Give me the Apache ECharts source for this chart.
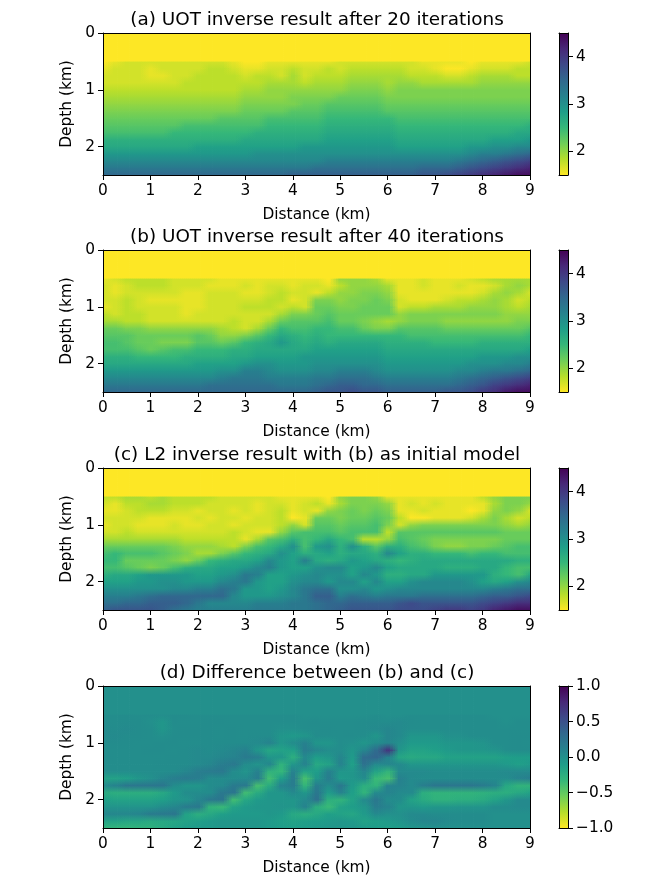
<!DOCTYPE html>
<html>
<head>
<meta charset="utf-8">
<script src="https://cdn.jsdelivr.net/npm/echarts@6/dist/echarts.min.js"></script>
<style>
html, body { margin: 0; padding: 0; background: #fff; }
#chart { width: 664px; height: 886px; }
</style>
</head>
<body>
<div id="chart"></div>
<script>
var titles = [
    '(a) UOT inverse result after 20 iterations',
    '(b) UOT inverse result after 40 iterations',
    '(c) L2 inverse result with (b) as initial model',
    '(d) Difference between (b) and (c)'
];
var distances = [0,0.25,0.5,0.75,1,1.25,1.5,1.75,2,2.25,2.5,2.75,3,3.25,3.5,3.75,4,4.25,4.5,4.75,5,5.25,5.5,5.75,6,6.25,6.5,6.75,7,7.25,7.5,7.75,8,8.25,8.5,8.75,9];
var depths = [0.5,0.625,0.75,0.875,1,1.125,1.25,1.375,1.5,1.625,1.75,1.875,2,2.125,2.25,2.375,2.5];
var xTicks = [0,1,2,3,4,5,6,7,8,9];
var yTicks = [0,1,2];
var velocityTicks = [2,3,4];
var diffTicks = [-1,-0.5,0,0.5,1];
var viridis = ['#440154','#482878','#3e4989','#31688e','#26828e','#1f9e89','#35b779','#6ece58','#b5de2b','#fde725'];
var waterVelocity = 15;
var waterDiff = 0;

// velocity * 10, one row per depth
var modelA = [
[15,16,17,17,17,17,17,17,17,17,17,16,15,15,16,16,16,16,16,16,17,17,17,17,17,17,17,16,16,16,16,15,16,16,16,16,17],
[16,17,17,17,16,17,17,17,17,18,18,17,16,16,17,17,18,17,17,18,17,18,18,18,18,18,17,17,16,15,15,16,17,17,17,18,18],
[17,17,17,17,16,16,17,17,18,18,18,18,17,18,18,17,19,17,18,18,18,19,19,19,19,19,18,18,18,17,17,18,19,19,19,18,18],
[17,17,17,17,17,17,17,18,18,18,18,18,18,18,19,19,19,18,19,19,19,20,20,20,19,20,20,19,19,19,19,19,20,20,20,20,20],
[18,18,18,18,18,18,18,18,18,18,18,18,19,19,20,20,20,20,20,20,20,21,21,21,20,21,21,21,21,21,21,21,21,21,21,21,21],
[19,19,19,19,19,19,19,19,19,19,19,19,20,20,20,20,21,21,21,21,22,22,22,22,21,21,21,21,21,21,21,21,21,21,21,21,21],
[20,20,20,20,20,20,20,20,20,20,20,20,21,21,21,21,21,22,22,23,23,23,23,23,22,22,22,22,22,22,22,22,22,22,22,22,22],
[21,21,21,21,21,21,21,21,21,21,21,21,22,22,22,22,23,23,23,24,24,24,24,24,23,23,23,23,23,23,23,23,23,23,23,23,23],
[22,22,22,22,22,22,22,22,22,22,23,23,23,23,24,24,24,24,24,25,25,25,25,25,25,24,24,24,24,24,24,24,24,24,24,24,24],
[23,23,23,23,23,23,23,24,24,24,24,24,24,24,25,25,25,25,25,26,26,26,26,26,26,25,25,25,25,25,25,25,25,25,25,25,26],
[24,24,24,24,24,24,25,25,25,25,25,25,25,26,26,26,26,26,26,27,27,27,27,27,27,26,26,26,26,26,26,26,26,26,26,27,27],
[26,26,26,26,26,26,26,26,26,26,26,26,27,27,27,27,27,27,27,28,28,28,28,28,28,27,27,27,27,27,27,27,27,28,28,28,29],
[27,27,27,27,27,27,27,27,28,28,28,28,28,28,28,28,28,29,29,29,29,29,29,29,29,28,28,28,28,28,28,29,29,30,30,31,31],
[29,29,29,29,29,29,29,29,29,29,29,29,29,30,30,30,30,30,30,30,30,30,30,30,30,30,30,30,30,30,30,31,32,32,33,34,35],
[31,31,31,31,31,31,31,31,31,31,31,31,31,31,31,31,31,31,31,32,32,32,32,32,32,32,32,32,32,32,33,34,35,36,37,38,39],
[33,33,33,33,33,33,33,33,33,33,33,33,33,33,33,33,33,33,34,34,34,34,34,34,34,34,34,35,35,35,36,37,38,39,40,41,42],
[35,35,35,35,35,35,35,35,35,35,35,35,35,35,35,35,36,36,36,36,36,36,36,36,36,36,36,37,37,38,39,40,41,42,43,44,44]
];
var modelB = [
[16,17,18,18,18,18,17,17,17,17,16,16,16,16,16,16,16,16,16,15,20,20,20,19,16,16,16,17,16,16,16,17,18,19,19,19,19],
[17,16,17,18,18,18,17,17,17,16,16,16,17,16,17,17,16,17,17,16,18,20,20,20,19,16,16,17,16,16,17,16,16,17,19,20,19],
[17,16,17,17,17,17,17,16,16,17,17,17,16,16,17,18,17,17,16,18,20,20,21,21,20,16,16,16,16,16,16,16,17,19,20,19,17],
[17,17,18,17,16,16,16,16,16,17,17,17,17,17,18,18,16,17,21,21,20,21,21,22,21,17,16,16,16,17,18,18,19,20,19,17,18],
[16,17,18,17,17,17,17,16,16,17,17,17,18,18,18,17,18,17,22,22,21,21,22,22,22,17,18,18,19,19,19,20,20,20,19,18,19],
[18,17,18,18,17,17,17,16,17,17,17,17,17,17,17,19,21,21,22,23,22,22,22,22,22,20,21,21,21,21,21,21,21,21,20,20,20],
[19,19,18,18,17,17,17,17,17,17,17,18,17,17,19,22,23,23,23,24,22,22,21,20,19,20,21,21,21,20,20,20,20,20,20,21,21],
[22,22,21,21,20,20,20,20,20,20,19,18,17,19,22,25,24,24,25,25,24,24,22,21,21,23,23,23,23,22,22,22,22,22,22,22,23],
[23,23,23,22,22,22,22,22,23,22,20,20,21,23,25,27,26,25,26,25,25,25,25,25,25,25,24,24,24,24,24,24,24,24,24,24,25],
[24,24,23,22,22,21,21,21,23,23,22,23,25,26,27,29,27,26,27,26,27,27,27,27,26,26,26,26,25,25,25,25,26,26,26,26,26],
[24,24,24,23,22,23,24,24,25,25,25,26,26,27,27,27,27,27,28,28,28,28,28,28,27,27,27,27,27,27,27,27,27,27,27,27,28],
[26,26,26,25,25,25,25,26,26,26,26,27,27,28,28,28,28,29,29,29,29,29,29,29,28,28,28,28,28,28,28,28,29,29,29,30,30],
[27,27,27,27,27,27,27,27,28,28,28,28,29,30,30,29,29,29,30,30,30,30,30,30,29,29,29,29,29,29,29,30,30,30,31,31,32],
[29,29,29,29,29,29,29,29,29,29,30,30,32,32,31,30,30,30,31,31,32,32,32,31,30,30,30,30,30,30,31,31,32,33,33,34,35],
[31,31,31,31,31,31,31,31,31,31,32,33,33,33,32,32,32,32,33,33,34,34,34,33,32,32,32,32,32,32,33,34,35,36,37,38,39],
[33,33,33,33,33,33,33,33,33,34,34,34,34,34,34,33,33,33,34,35,36,36,35,35,34,34,34,34,34,34,35,36,37,39,40,41,42],
[35,35,35,35,35,35,35,35,35,35,35,35,35,35,35,35,35,35,36,37,37,38,37,37,36,36,36,36,36,37,37,38,40,41,43,44,44]
];
var modelC = [
[18,18,19,19,18,19,18,18,18,18,17,17,17,17,17,16,16,16,16,15,20,21,21,20,16,16,16,16,16,16,16,16,18,20,21,21,21],
[17,16,18,18,19,19,18,18,18,17,17,17,17,16,17,17,16,17,18,16,19,21,21,21,20,16,17,16,17,16,16,16,16,19,21,21,20],
[16,16,17,18,18,18,17,17,16,17,17,16,17,16,17,18,16,17,16,20,21,22,21,22,21,16,16,17,16,16,16,15,16,20,21,20,17],
[17,17,17,17,16,16,16,16,17,16,17,17,16,17,17,18,15,16,22,22,21,22,22,23,22,18,15,15,16,16,16,17,19,21,19,17,18],
[16,17,17,16,16,16,17,16,16,17,17,16,17,17,17,18,20,17,23,23,22,23,23,24,21,17,20,21,21,21,21,21,21,21,20,19,20],
[17,17,18,17,17,17,17,17,17,17,17,18,17,16,16,20,23,24,24,24,23,24,24,24,18,23,23,23,23,23,23,23,23,23,22,22,22],
[19,19,19,19,19,19,19,18,18,18,18,18,16,19,23,24,26,24,25,27,25,24,18,18,20,24,23,22,21,21,21,21,21,21,22,22,22],
[22,22,22,22,22,22,21,20,20,20,19,18,21,24,25,27,30,24,29,30,26,30,26,23,26,26,24,23,21,20,20,21,21,22,23,24,24],
[24,25,24,24,24,23,22,21,19,19,21,23,25,26,27,30,28,26,27,28,26,27,27,26,31,28,26,26,25,25,25,24,25,25,24,24,24],
[25,25,22,22,22,22,21,20,22,25,26,27,27,28,31,29,28,32,27,26,27,29,28,27,26,25,26,27,27,27,27,27,27,27,27,26,26],
[24,24,23,22,21,22,24,26,27,27,28,28,29,31,32,29,28,28,30,31,31,28,29,31,28,27,27,27,27,26,26,26,27,27,25,24,24],
[26,27,27,28,29,29,29,29,28,28,29,30,33,32,28,28,29,30,31,30,30,28,31,29,26,26,27,27,29,29,29,29,29,26,25,24,27],
[28,28,28,29,29,30,30,29,29,29,31,32,33,29,28,28,30,31,31,29,31,31,28,31,28,28,30,31,31,31,31,30,28,27,28,30,31],
[30,30,30,30,30,30,31,31,32,32,34,33,29,29,28,29,31,33,34,34,30,30,31,29,30,31,31,31,31,31,31,31,31,32,33,34,34],
[32,32,32,33,34,35,35,35,35,35,35,31,29,29,29,30,31,33,36,36,32,34,33,32,33,33,33,34,34,34,34,34,35,36,36,37,38],
[34,34,35,35,36,36,36,35,33,31,31,31,31,32,32,32,33,33,34,35,35,36,36,36,36,37,38,37,37,37,37,37,38,39,40,41,41],
[36,37,37,37,37,36,34,33,32,32,32,32,32,33,33,33,33,33,34,35,36,37,37,37,37,38,38,38,39,40,40,39,40,42,43,44,44]
];
// difference * 100
var modelD = [
[2,2,3,2,3,2,3,3,2,2,2,2,2,2,2,2,2,0,0,0,0,0,0,2,0,0,2,2,2,2,2,2,2,0,0,0,0],
[3,2,3,3,0,-5,3,2,2,3,3,2,2,2,2,2,2,2,3,2,2,2,3,3,3,5,3,2,2,2,2,2,2,2,0,2,2],
[5,3,5,3,2,-5,2,3,3,3,2,3,2,2,2,0,0,2,2,3,2,2,3,5,8,5,2,2,2,2,2,2,2,2,2,2,2],
[3,5,3,3,2,0,3,3,3,3,2,3,2,3,3,-5,-8,-5,3,2,2,3,2,-5,8,5,-5,-5,-5,0,0,2,2,2,2,3,3],
[3,3,3,2,2,3,3,2,2,3,3,3,3,5,10,-5,3,12,-5,-5,2,0,-5,3,8,0,-8,-8,-8,-5,-5,-5,-3,2,2,3,2],
[2,2,2,2,3,3,2,3,5,3,5,8,12,-5,-18,-15,-12,15,8,2,2,-5,8,30,70,-5,-15,-15,-12,-8,-5,-5,-5,-3,2,3,3],
[3,2,2,2,2,2,3,3,5,5,8,10,18,15,-5,-5,-25,5,-10,-5,8,-8,30,35,10,-18,-22,-20,-20,-15,-15,-15,-15,-15,-12,-10,-10],
[2,2,2,2,2,3,3,3,5,8,15,20,3,-3,8,-28,-5,10,-20,-15,10,-12,25,5,8,5,-5,-5,-5,-5,-5,-5,-5,-5,-8,-12,-8],
[2,2,2,2,2,2,3,8,15,18,20,3,-3,12,-28,-32,10,-15,-10,12,-5,-5,8,-15,-30,5,5,5,3,3,3,3,3,3,5,5,5],
[-15,-15,-12,-5,0,8,15,18,15,3,3,3,5,15,-38,-10,15,-40,-5,15,-8,-5,3,-35,-40,12,5,3,3,3,3,3,3,3,3,10,15],
[5,12,22,22,22,22,3,-5,-5,3,5,18,20,-40,-22,10,15,-30,15,3,20,-8,-25,-30,10,10,5,15,22,22,22,22,18,10,-20,-30,-30],
[-22,-25,-25,-25,-25,-20,-8,3,3,3,20,22,-38,-22,-5,-5,5,-5,20,-8,10,-12,-30,5,10,5,5,-25,-30,-30,-30,-30,-28,-25,-25,-20,-15],
[-12,-15,-15,-15,-15,-12,-5,-3,8,20,22,-38,-18,-8,-5,-5,-5,5,25,-25,-30,-15,5,20,3,3,-15,-22,-28,-28,-25,-25,-22,-15,-5,5,5],
[-3,-3,-3,-3,-3,3,8,18,20,-30,-35,-15,-8,-5,-5,-3,-5,10,-25,-35,-15,-10,-5,15,10,-5,-5,-8,-5,-5,-3,-3,-3,3,3,5,5],
[8,8,8,10,18,20,22,-15,-25,-20,-12,-8,-8,-8,-5,-8,-20,-25,-20,-12,-15,-18,-8,5,0,0,5,5,3,3,3,3,3,0,0,0,0],
[-15,-15,-18,-18,-22,-20,-18,-15,-12,-8,-5,-5,-5,-5,-8,-12,-15,-12,-10,-8,-5,-8,-15,-12,-8,-3,3,8,8,5,3,3,3,0,0,0,0],
[-30,-32,-32,-30,-28,-22,-15,-10,-8,-8,-5,-5,-5,-5,-8,-10,-12,-10,-8,-5,-5,-5,-8,-10,-12,-10,-5,-3,0,0,0,0,0,0,0,0,0]
];

var panels = [
    { rows: modelA, scale: 10, water: waterVelocity, min: 1.5, max: 4.5, ticks: velocityTicks },
    { rows: modelB, scale: 10, water: waterVelocity, min: 1.5, max: 4.5, ticks: velocityTicks },
    { rows: modelC, scale: 10, water: waterVelocity, min: 1.5, max: 4.5, ticks: velocityTicks },
    { rows: modelD, scale: 100, water: waterDiff, min: -1, max: 1, ticks: diffTicks }
];
var tops = [33, 250, 468, 686];
var plotHeight = 142;
var textColor = '#000';
var fontName = 'DejaVu Sans';
// the columns are drawn a few times, shifted sideways, so they soften like the original's image smoothing
var smoothPasses = [
    { shift: -0.3, opacity: 1 },
    { shift: -0.1, opacity: 1 / 2 },
    { shift: 0.1, opacity: 1 / 3 },
    { shift: 0.3, opacity: 1 / 4 }
];

function colorOf(panel, raw) {
    var t = (panel.max - raw / panel.scale) / (panel.max - panel.min);
    return echarts.color.lerp(Math.max(0, Math.min(1, t)), viridis);
}

// one strip per distance, shaded from one depth row to the next
function columnCell(panel, pass) {
    return function (params, api) {
        var a = api.coord([api.value(0), api.value(1)]);
        var b = api.coord([api.value(2), api.value(3)]);
        var w = b[0] - a[0];
        return {
            type: 'rect',
            shape: { x: a[0] + pass.shift * w, y: a[1], width: w + 0.6, height: b[1] - a[1] + 0.6 },
            style: {
                opacity: pass.opacity,
                fill: new echarts.graphic.LinearGradient(0, 0, 0, 1, [
                    { offset: 0, color: colorOf(panel, api.value(4)) },
                    { offset: 1, color: colorOf(panel, api.value(5)) }
                ])
            }
        };
    };
}

function colorbarCell(panel) {
    return function (params, api) {
        var a = api.coord([0, panel.max]);
        var b = api.coord([1, panel.min]);
        var stops = viridis.map(function (c, i) {
            return { offset: i / (viridis.length - 1), color: c };
        });
        return {
            type: 'rect',
            shape: { x: a[0], y: a[1], width: b[0] - a[0], height: b[1] - a[1] },
            style: { fill: new echarts.graphic.LinearGradient(0, 0, 0, 1, stops) }
        };
    };
}

function tickLabel(v) {
    return String(v);
}
function diffLabel(v) {
    return v.toFixed(1).replace('-', '\u2212');
}

var option = {
    animation: false,
    backgroundColor: '#fff',
    title: [], grid: [], xAxis: [], yAxis: [], series: []
};

function addAxes(gridIndex, xCfg, yCfg) {
    var line = { show: true, onZero: false, lineStyle: { color: '#000', width: 1 } };
    var plainTick = { show: false };
    var plainLabel = { show: false };
    option.xAxis.push(Object.assign({ gridIndex: gridIndex, type: 'value', position: 'bottom', z: 5, axisLine: line, splitLine: { show: false } }, xCfg));
    option.xAxis.push({ gridIndex: gridIndex, type: 'value', position: 'top', min: xCfg.min, max: xCfg.max, z: 5, axisLine: line, axisTick: plainTick, axisLabel: plainLabel, splitLine: { show: false } });
    option.yAxis.push(Object.assign({ gridIndex: gridIndex, type: 'value', z: 5, axisLine: line, splitLine: { show: false } }, yCfg));
    option.yAxis.push({ gridIndex: gridIndex, type: 'value', position: yCfg.position === 'right' ? 'left' : 'right', inverse: yCfg.inverse, min: yCfg.min, max: yCfg.max, z: 5, axisLine: line, axisTick: plainTick, axisLabel: plainLabel, splitLine: { show: false } });
}

panels.forEach(function (panel, p) {
    var plotGrid = p * 2;
    var barGrid = p * 2 + 1;
    var labelStyle = { color: textColor, fontFamily: fontName, fontSize: 15.4 };

    option.title.push({
        text: titles[p], left: 312, top: tops[p] - 27, textAlign: 'center',
        textStyle: { color: textColor, fontFamily: fontName, fontSize: 18.4, fontWeight: 'normal' }
    });
    option.grid.push({ left: 103, width: 427, top: tops[p], height: plotHeight });
    option.grid.push({ left: 559, width: 9, top: tops[p], height: plotHeight });

    addAxes(plotGrid, {
        min: 0, max: 9, name: 'Distance (km)', nameLocation: 'middle', nameGap: 32,
        nameTextStyle: labelStyle,
        axisTick: { length: 5, lineStyle: { color: '#000' }, customValues: xTicks },
        axisLabel: Object.assign({ margin: 8, customValues: xTicks, formatter: tickLabel }, labelStyle)
    }, {
        inverse: true, min: 0, max: 2.5, position: 'left', name: 'Depth (km)', nameLocation: 'middle', nameGap: 28,
        nameTextStyle: labelStyle,
        axisTick: { length: 5, lineStyle: { color: '#000' }, customValues: yTicks },
        axisLabel: Object.assign({ margin: 8, customValues: yTicks, formatter: tickLabel }, labelStyle)
    });
    addAxes(barGrid, {
        min: 0, max: 1, axisTick: { show: false }, axisLabel: { show: false }
    }, {
        min: panel.min, max: panel.max, position: 'right',
        axisTick: { length: 5, lineStyle: { color: '#000' }, customValues: panel.ticks },
        axisLabel: Object.assign({ margin: 8, customValues: panel.ticks, formatter: p === 3 ? diffLabel : tickLabel }, labelStyle)
    });

    var cells = [];
    distances.forEach(function (d, i) {
        cells.push([d - 0.125, 0, d + 0.125, depths[0], panel.water, panel.water]);
        for (var j = 0; j < depths.length - 1; j++) {
            cells.push([d - 0.125, depths[j], d + 0.125, depths[j + 1], panel.rows[j][i], panel.rows[j + 1][i]]);
        }
    });
    var plotAxis = p * 4;
    smoothPasses.forEach(function (pass) {
        option.series.push({
            type: 'custom', xAxisIndex: plotAxis, yAxisIndex: plotAxis, clip: true, silent: true, progressive: 0,
            renderItem: columnCell(panel, pass), encode: { x: [0, 2], y: [1, 3] }, data: cells
        });
    });
    option.series.push({
        type: 'custom', xAxisIndex: plotAxis + 2, yAxisIndex: plotAxis + 2, clip: true, silent: true,
        renderItem: colorbarCell(panel), encode: { x: [0], y: [1] }, data: [[0, panel.min]]
    });
});

var chart = echarts.init(document.getElementById('chart'), null, { renderer: 'canvas' });
chart.setOption(option);
</script>
</body>
</html>
